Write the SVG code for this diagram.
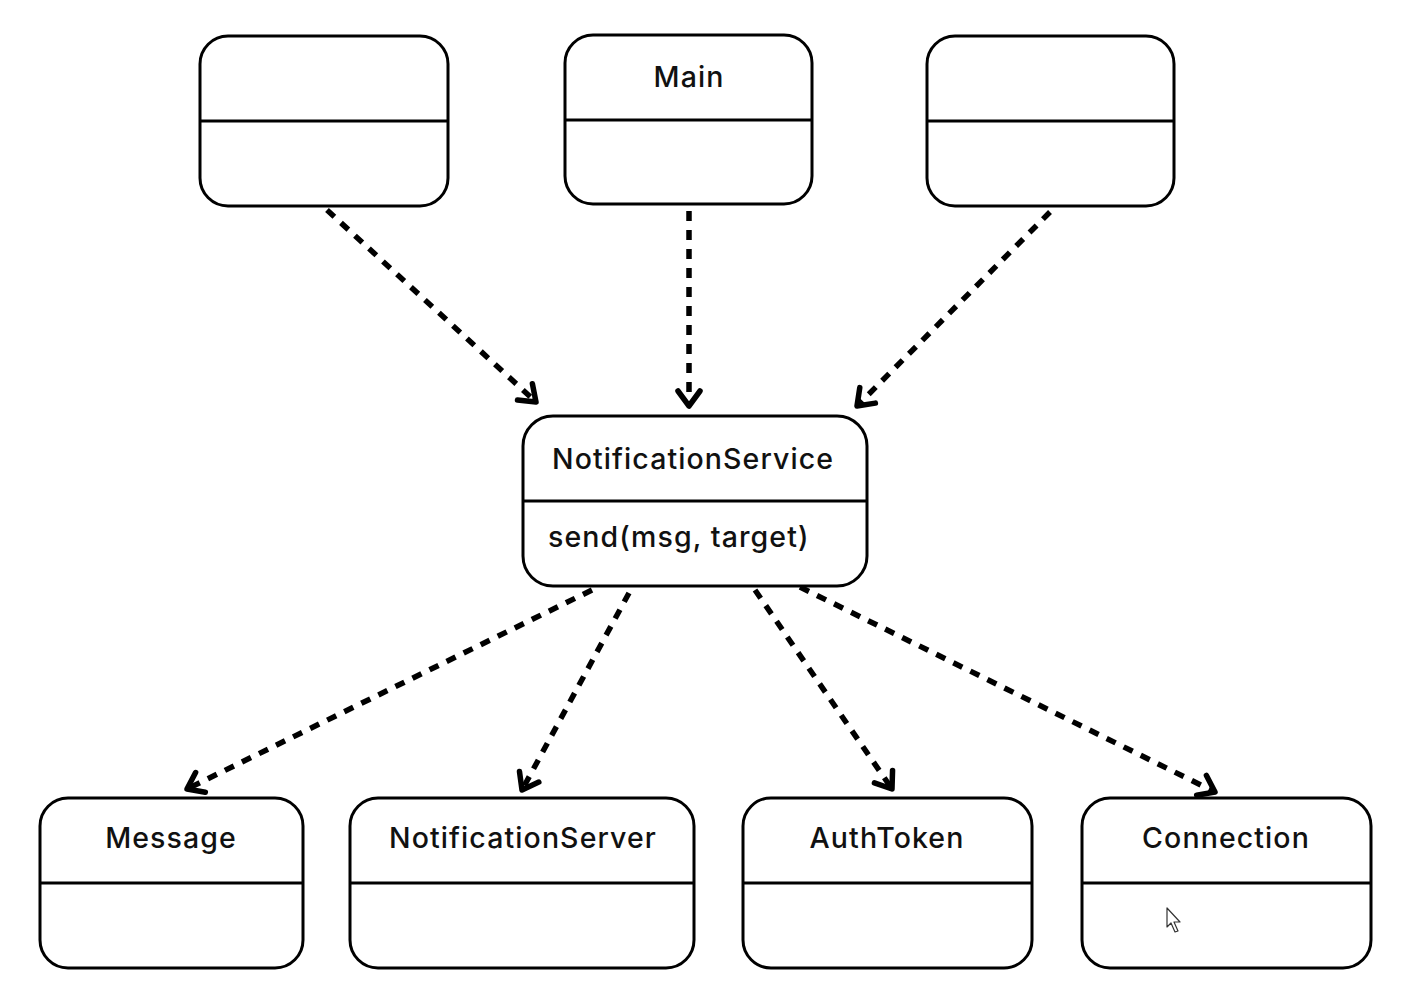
<svg xmlns="http://www.w3.org/2000/svg" width="1404" height="1007" viewBox="0 0 1404 1007">
<style>
.box{fill:#fff;stroke:#000;stroke-width:3}
.div{stroke:#000;stroke-width:3}
.t{font-family:Inter,"Noto Sans","DejaVu Sans",sans-serif;font-size:28.5px;fill:#111;font-weight:500;letter-spacing:1.1px}
.c{stroke:#000;stroke-width:5.5;fill:none;stroke-dasharray:10 9}
</style>
<defs>
<marker id="ah" markerUnits="userSpaceOnUse" viewBox="-20 -15 24 30" refX="0" refY="0" markerWidth="24" markerHeight="30" orient="auto" overflow="visible">
<path d="M-15,-11 L0,0 L-15,11" fill="none" stroke="#000" stroke-width="5.5" stroke-dasharray="none" stroke-linecap="round" stroke-linejoin="round"/>
</marker>
</defs>
<rect width="1404" height="1007" fill="#fff"/>
<g id="connectors">
<path class="c" d="M327,210 L536,402" marker-end="url(#ah)"/>
<path class="c" d="M689,211 L689,406" marker-end="url(#ah)"/>
<path class="c" d="M1050,212 L857,406" marker-end="url(#ah)"/>
<path class="c" d="M592,590 L187,789" marker-end="url(#ah)"/>
<path class="c" d="M629,593 L522,790" marker-end="url(#ah)"/>
<path class="c" d="M755,590 L892,789" marker-end="url(#ah)"/>
<path class="c" d="M800,587 L1215,792" marker-end="url(#ah)"/>
</g>
<g id="box-left">
<rect class="box" x="200" y="36" width="248" height="170" rx="28"/>
<line class="div" x1="200" y1="121" x2="448" y2="121"/>
</g>
<g id="main">
<rect class="box" x="565" y="35" width="247" height="169" rx="28"/>
<line class="div" x1="565" y1="120" x2="812" y2="120"/>
<text class="t" x="689" y="87" text-anchor="middle">Main</text>
</g>
<g id="box-right">
<rect class="box" x="927" y="36" width="247" height="170" rx="28"/>
<line class="div" x1="927" y1="121" x2="1174" y2="121"/>
</g>
<g id="notification-service">
<rect class="box" x="523" y="416" width="344" height="170" rx="30"/>
<line class="div" x1="523" y1="501" x2="867" y2="501"/>
<text class="t" x="552" y="469">NotificationService</text>
<text class="t" x="548" y="547">send(msg, target)</text>
</g>
<g id="message">
<rect class="box" x="40" y="798" width="263" height="170" rx="28"/>
<line class="div" x1="40" y1="883" x2="303" y2="883"/>
<text class="t" x="171" y="848" text-anchor="middle">Message</text>
</g>
<g id="notification-server">
<rect class="box" x="350" y="798" width="344" height="170" rx="28"/>
<line class="div" x1="350" y1="883" x2="694" y2="883"/>
<text class="t" x="523" y="848" text-anchor="middle">NotificationServer</text>
</g>
<g id="authtoken">
<rect class="box" x="743" y="798" width="289" height="170" rx="28"/>
<line class="div" x1="743" y1="883" x2="1032" y2="883"/>
<text class="t" x="887" y="848" text-anchor="middle">AuthToken</text>
</g>
<g id="connection">
<rect class="box" x="1082" y="798" width="289" height="170" rx="28"/>
<line class="div" x1="1082" y1="883" x2="1371" y2="883"/>
<text class="t" x="1226" y="848" text-anchor="middle">Connection</text>
</g>
<path d="M1167,908 L1167,927 L1171,923 L1175,932 L1178,931 L1174,922 L1180,922 Z" fill="#fff" stroke="#333" stroke-width="1.2" stroke-linejoin="round"/>
</svg>
